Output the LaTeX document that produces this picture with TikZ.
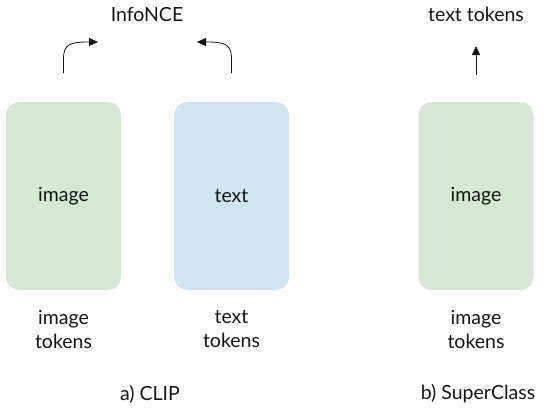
\documentclass[tikz,border=0pt]{standalone}
\usepackage{fontspec}
\setmainfont{Lato}
\usetikzlibrary{arrows.meta, positioning}
\definecolor{BoxGreen}{RGB}{213, 232, 212}
\definecolor{BoxBlue}{RGB}{207, 230, 240}
\definecolor{InkDark}{RGB}{20, 20, 20}

\begin{document}
\begin{tikzpicture}[x=1pt,y=-1pt,
  tower/.style={rounded corners=13pt, minimum width=115pt, minimum height=188pt,
    inner sep=0pt, font=\fontsize{19.5}{23}\selectfont, text=InkDark},
  lbl/.style={align=center, font=\fontsize{19.5}{24}\selectfont, text=InkDark},
  flow/.style={line width=0.8pt, InkDark, -{Triangle[length=9pt,width=8pt]}}]
  \path[use as bounding box] (0,0) rectangle (552,408);
  % a) CLIP
  \node[tower, fill=BoxGreen] (imgbox) at (63.5,196) {image};
  \node[tower, fill=BoxBlue] (txtbox) at (231.5,196) {text};
  \node[lbl] (imgtok) at (63.5,329) {image\\tokens};
  \node[lbl] (txttok) at (231.5,329) {text\\tokens};
  \node[lbl] (nce) at (147,14) {InfoNCE};
  \coordinate (imgout) at (63.5,73);
  \coordinate (txtout) at (231.5,73);
  \coordinate (imgin) at (98,42);
  \coordinate (txtin) at (197,42);
  \draw[flow] (imgout) -- ++(0,-14) .. controls (63.5,44) and (70,42) .. (imgin);
  \draw[flow] (txtout) -- ++(0,-14) .. controls (231.5,44) and (225,42) .. (txtin);
  \node[lbl] (capa) at (150,394) {a) CLIP};
  % b) SuperClass
  \node[tower, fill=BoxGreen] (scbox) at (476,196) {image};
  \node[lbl] (sctok) at (476,329) {image\\tokens};
  \node[lbl] (scout) at (476,14) {text tokens};
  \coordinate (scfrom) at (476,75);
  \coordinate (scto) at (476,46);
  \draw[flow] (scfrom) -- (scto);
  \node[lbl] (capb) at (478,394) {b) SuperClass};
\end{tikzpicture}
\end{document}
